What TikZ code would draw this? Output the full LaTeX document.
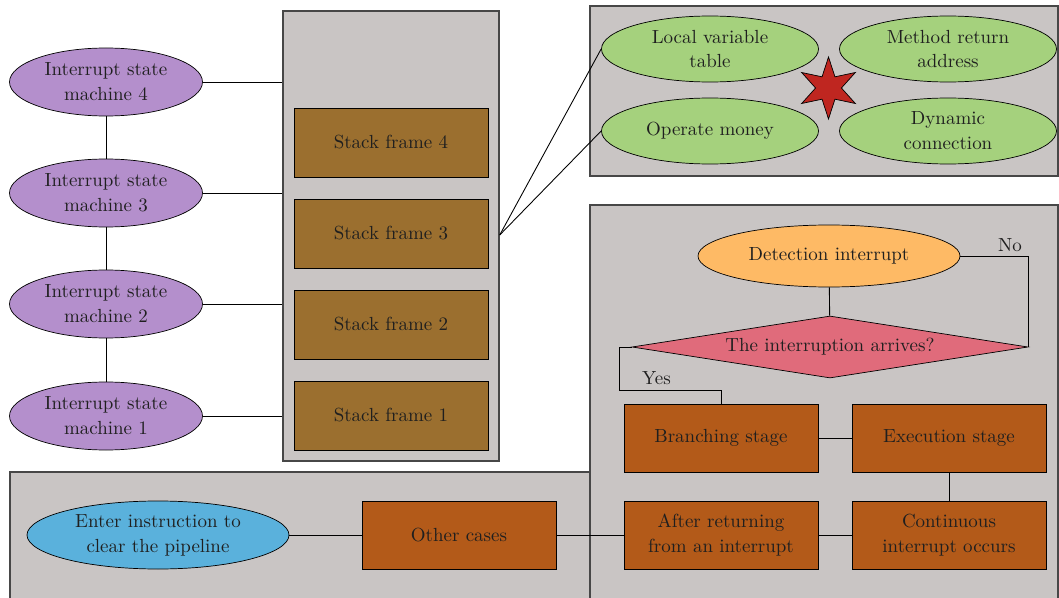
\documentclass[tikz,border=0pt]{standalone}
\usepackage{tikz}
\usetikzlibrary{positioning,shapes.geometric}

\definecolor{panelgray}{HTML}{C9C5C4}
\definecolor{machinepurple}{HTML}{B48FCC}
\definecolor{framebrown}{HTML}{9B6F2F}
\definecolor{featgreen}{HTML}{A5D17D}
\definecolor{starred}{HTML}{BF2620}
\definecolor{detorange}{HTML}{FEBA65}
\definecolor{askpink}{HTML}{E06B7B}
\definecolor{stagebrown}{HTML}{B35A19}
\definecolor{enterblue}{HTML}{5AB1DC}

\begin{document}
\begin{tikzpicture}[
  txt/.style={font=\fontsize{10.8}{14.2}\selectfont, text=black!88, align=center},
  panel/.style={draw=black!72, line width=0.8pt, fill=panelgray, inner sep=0pt},
  machine/.style={txt, ellipse, draw, fill=machinepurple, minimum width=3.86cm, minimum height=1.36cm, inner sep=0pt},
  frame/.style={txt, draw, fill=framebrown, minimum width=3.88cm, minimum height=1.38cm},
  feature/.style={txt, ellipse, draw, fill=featgreen, minimum width=4.34cm, minimum height=1.32cm, inner sep=0pt},
  stage/.style={txt, draw, fill=stagebrown, minimum width=3.88cm, minimum height=1.36cm},
  wire/.style={draw=black, line width=0.5pt}
]
\useasboundingbox (0,0) rectangle (21.18,11.94);
\clip (0,0) rectangle (21.18,11.94);

% Panels
\node[panel, minimum width=4.32cm, minimum height=9.0cm] (stack) at (7.82,7.22) {};
\node[panel, minimum width=9.36cm, minimum height=3.40cm] (frameinfo) at (16.48,10.12) {};
\draw[panel] (0.2,-0.3) rectangle (11.8,2.5);
\draw[panel] (11.8,-0.3) rectangle (21.16,7.84);

% Interrupt state machines
\node[machine] (m4) at (2.12,10.30) {Interrupt state\\machine 4};
\node[machine] (m3) at (2.12,8.08) {Interrupt state\\machine 3};
\node[machine] (m2) at (2.12,5.86) {Interrupt state\\machine 2};
\node[machine] (m1) at (2.12,3.62) {Interrupt state\\machine 1};

\draw[wire] (m4) -- (m3);
\draw[wire] (m3) -- (m2);
\draw[wire] (m2) -- (m1);
\foreach \m in {m4,m3,m2,m1}
  \draw[wire] (\m.east) -- (\m.east -| stack.west);

% Stack frames
\node[frame] (f4) at (7.82,9.09) {Stack frame 4};
\node[frame] (f3) at (7.82,7.27) {Stack frame 3};
\node[frame] (f2) at (7.82,5.45) {Stack frame 2};
\node[frame] (f1) at (7.82,3.63) {Stack frame 1};

% Frame contents
\node[feature] (locvar) at (14.20,10.96) {Local variable\\table};
\node[feature] (retaddr) at (18.96,10.96) {Method return\\address};
\node[feature] (opmoney) at (14.20,9.32) {Operate money};
\node[feature] (dynlink) at (18.96,9.32) {Dynamic\\connection};
\node[star, star points=6, star point ratio=2.4, minimum size=1.24cm, inner sep=0pt,
      draw, fill=starred] (star) at (16.57,10.18) {};

\coordinate (fork) at (stack.east |- 0,7.24);
\draw[wire] (fork) -- (locvar.west);
\draw[wire] (fork) -- (opmoney.west);

% Interrupt handling flow
\node[txt, ellipse, draw, fill=detorange, minimum width=5.24cm, minimum height=1.24cm, inner sep=0pt]
  (detect) at (16.58,6.82) {Detection interrupt};
\node[txt, diamond, draw, fill=askpink, aspect=6.4, minimum width=7.92cm, minimum height=1.24cm, inner sep=0pt]
  (arrives) at (16.60,5.00) {The interruption arrives?};
\node[stage] (branch) at (14.42,3.18) {Branching stage};
\node[stage] (exec) at (18.98,3.18) {Execution stage};
\node[stage] (after) at (14.42,1.24) {After returning\\from an interrupt};
\node[stage] (cont) at (18.98,1.24) {Continuous\\interrupt occurs};
\node[stage] (other) at (9.18,1.24) {Other cases};
\node[txt, ellipse, draw, fill=enterblue, minimum width=5.24cm, minimum height=1.36cm, inner sep=0pt]
  (enter) at (3.16,1.24) {Enter instruction to\\clear the pipeline};

\draw[wire] (detect) -- (arrives);
\draw[wire] (detect.east) -| (arrives.east);
\node[txt, anchor=base east] (no) at (20.56,6.92) {No};

\coordinate (yesbend) at (12.38,4.14);
\draw[wire] (arrives.west) -| (yesbend) -| (branch.north);
\node[txt, anchor=base west] (yes) at (12.72,4.26) {Yes};

\draw[wire] (branch) -- (exec);
\draw[wire] (exec) -- (cont);
\draw[wire] (cont) -- (after);
\draw[wire] (after) -- (other);
\draw[wire] (other) -- (enter);
\end{tikzpicture}
\end{document}
